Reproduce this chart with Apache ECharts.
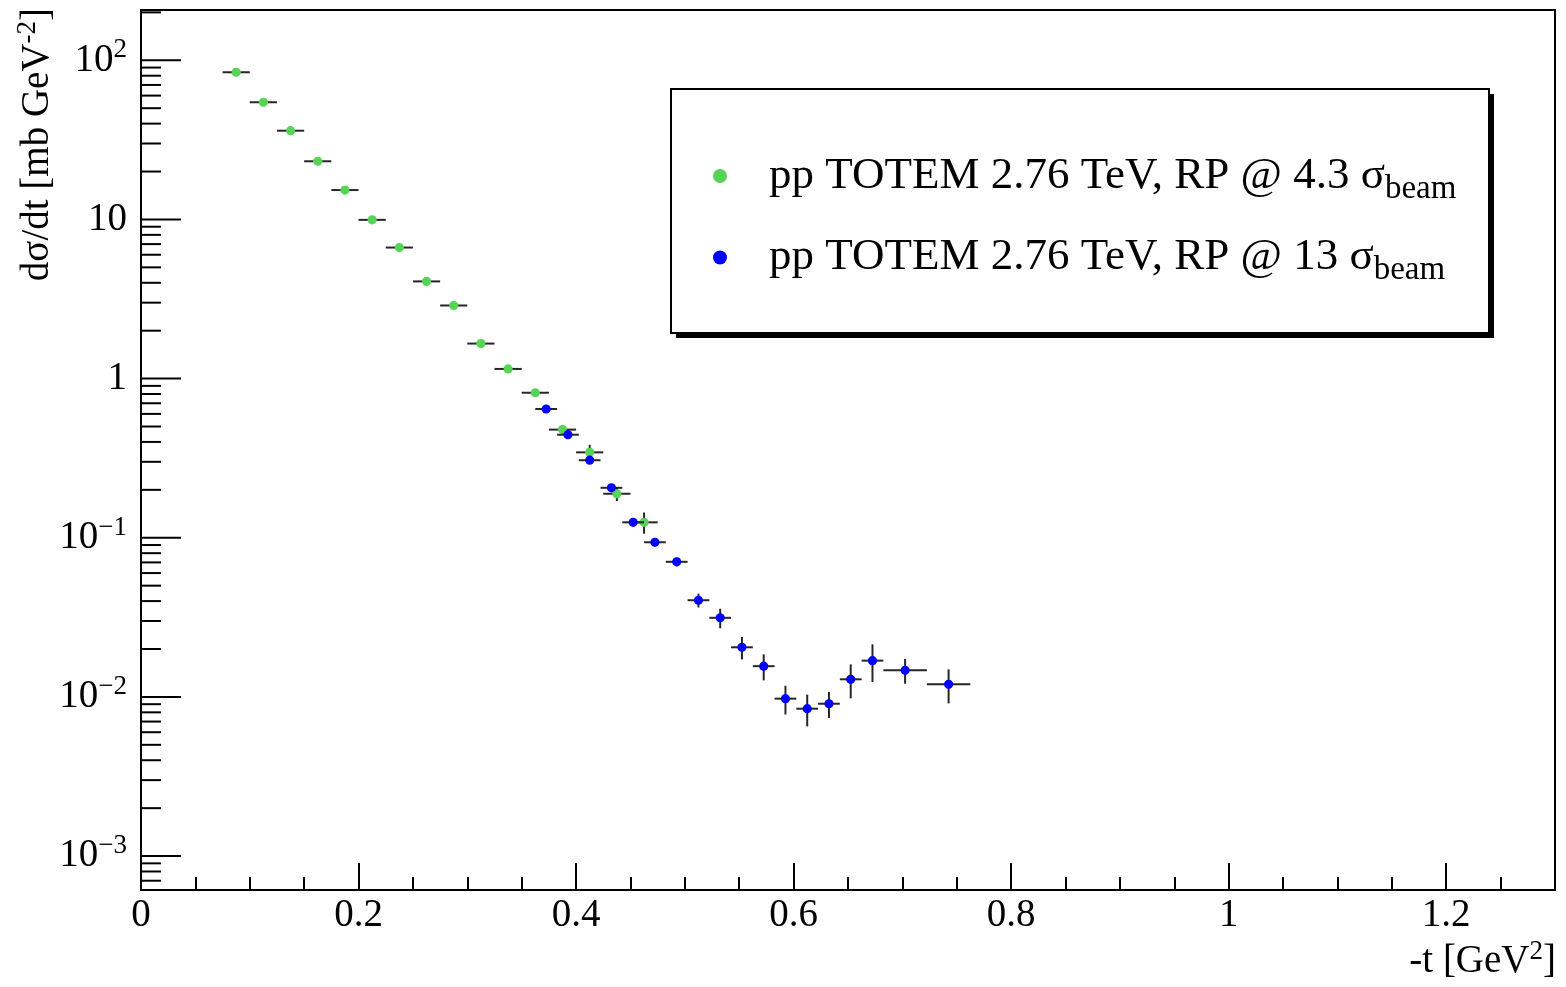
<!DOCTYPE html>
<html>
<head>
<meta charset="utf-8">
<script src="https://cdn.jsdelivr.net/npm/echarts@6/dist/echarts.min.js"></script>
<style>
  html, body { margin: 0; padding: 0; background: #fff; }
  #chart { width: 1566px; height: 987px; }
</style>
</head>
<body>
<div id="chart"></div>
<script>
// TOTEM elastic pp at 2.76 TeV: dσ/dt versus -t, two Roman Pot configurations

// RP @ 4.3 σ_beam
const tGreen     = [0.0875, 0.1125, 0.1375, 0.1625, 0.1875, 0.2125, 0.2375, 0.2625, 0.2875, 0.3125, 0.3375, 0.3625, 0.3875, 0.4125, 0.4375, 0.4625];
const tHalfGreen = [0.0125, 0.0125, 0.0125, 0.0125, 0.0125, 0.0125, 0.0125, 0.0125, 0.0125, 0.0125, 0.0125, 0.0125, 0.0125, 0.0125, 0.0125, 0.0125];
const dsGreen    = [84.1, 54.5, 36.1, 23.2, 15.3, 9.94, 6.66, 4.08, 2.88, 1.66, 1.15, 0.815, 0.478, 0.344, 0.189, 0.125];
const dsErrGreen = [0.8, 0.5, 0.35, 0.25, 0.17, 0.11, 0.08, 0.05, 0.035, 0.025, 0.02, 0.018, 0.03, 0.04, 0.019, 0.019];

// RP @ 13 σ_beam
const tBlue     = [0.3725, 0.3925, 0.4125, 0.4325, 0.4525, 0.4725, 0.4925, 0.5125, 0.5325, 0.5525, 0.5725, 0.5925, 0.6125, 0.6325, 0.6525, 0.6725, 0.7025, 0.7425];
const tHalfBlue = [0.01, 0.01, 0.01, 0.01, 0.01, 0.01, 0.01, 0.01, 0.01, 0.01, 0.01, 0.01, 0.01, 0.01, 0.01, 0.01, 0.02, 0.02];
const dsBlue    = [0.644, 0.444, 0.307, 0.206, 0.125, 0.0937, 0.0706, 0.0405, 0.0314, 0.0205, 0.0156, 0.00975, 0.00843, 0.00906, 0.0129, 0.0169, 0.0147, 0.0120];
const dsErrBlue = [0.02, 0.015, 0.012, 0.01, 0.007, 0.0055, 0.0045, 0.004, 0.0044, 0.0033, 0.0029, 0.002, 0.0019, 0.0017, 0.0031, 0.0045, 0.0026, 0.0029];

const nameGreen = 'pp TOTEM 2.76 TeV, RP @ 4.3 σbeam';
const nameBlue  = 'pp TOTEM 2.76 TeV, RP @ 13 σbeam';

// axis ranges and tick values
const tMin = 0, tMax = 1.3, tStep = 0.2;
const xMinorTicks = [0.05, 0.1, 0.15, 0.25, 0.3, 0.35, 0.45, 0.5, 0.55, 0.65, 0.7, 0.75, 0.85, 0.9, 0.95, 1.05, 1.1, 1.15, 1.25];
const yMin = 6.12e-4, yMax = 207;
const yMajorTicks = [1e-3, 1e-2, 1e-1, 1, 10, 100];
const yMinorTicks = [];
for (let e = -4; e <= 2; e++) {
  for (let m = 2; m <= 9; m++) {
    const v = m * Math.pow(10, e);
    if (v > yMin && v < yMax) yMinorTicks.push(v);
  }
}

const FONT = "'Liberation Serif', 'DejaVu Serif', serif";
const GREEN = '#57d457';
const BLUE = '#0000ff';
const BAR = '#262626';

function rows(t, th, v, ve) {
  return t.map((x, i) => [x, v[i], th[i], ve[i]]);
}

function errorPoint(color) {
  return function (params, api) {
    const x = api.value(0), y = api.value(1), ex = api.value(2), ey = api.value(3);
    const c = api.coord([x, y]);
    const l = api.coord([x - ex, y]);
    const r = api.coord([x + ex, y]);
    const up = api.coord([x, y + ey]);
    const dn = api.coord([x, Math.max(y - ey, yMin)]);
    const ls = { stroke: BAR, lineWidth: 2 };
    return {
      type: 'group',
      children: [
        { type: 'line', shape: { x1: l[0], y1: c[1], x2: r[0], y2: c[1] }, style: ls },
        { type: 'line', shape: { x1: c[0], y1: up[1], x2: c[0], y2: dn[1] }, style: ls },
        { type: 'circle', shape: { cx: c[0], cy: c[1], r: 4.6 }, style: { fill: color } }
      ]
    };
  };
}

function yTicks(len) {
  return function (params, api) {
    const p = api.coord([tMin, api.value(1)]);
    return {
      type: 'line',
      shape: { x1: p[0], y1: p[1], x2: p[0] + len, y2: p[1] },
      style: { stroke: '#000', lineWidth: 2 }
    };
  };
}

const supStyle = { fontSize: 27, fontFamily: FONT, color: '#000', padding: [0, 0, 20, 0] };

// legend frame with a solid drop shadow
const box = { x: 671, y: 89, w: 818, h: 244, shadow: 5 };

const chart = echarts.init(document.getElementById('chart'), null, { renderer: 'canvas' });

chart.setOption({
  backgroundColor: '#fff',
  animation: false,
  grid: {
    left: 141, right: 11, top: 10, bottom: 97,
    show: true, borderColor: '#000', borderWidth: 2, backgroundColor: 'transparent'
  },
  xAxis: [
    {
      type: 'value', min: tMin, max: tMax, interval: tStep,
      position: 'bottom',
      axisLine: { show: false },
      splitLine: { show: false },
      axisTick: { show: true, inside: true, length: 27, lineStyle: { color: '#000', width: 2 } },
      axisLabel: {
        show: true, margin: 6, showMaxLabel: false,
        fontFamily: FONT, fontSize: 39, color: '#000'
      }
    },
    {
      type: 'value', min: tMin, max: tMax,
      position: 'bottom',
      axisLine: { show: false },
      splitLine: { show: false },
      axisLabel: { show: false },
      axisTick: {
        show: true, inside: true, length: 13, customValues: xMinorTicks,
        lineStyle: { color: '#000', width: 2 }
      }
    }
  ],
  yAxis: {
    type: 'log', logBase: 10, min: yMin, max: yMax,
    axisLine: { show: false },
    splitLine: { show: false },
    axisTick: { show: false },
    axisLabel: {
      show: true, margin: 14, showMinLabel: false, showMaxLabel: false,
      fontFamily: FONT, fontSize: 39, color: '#000',
      formatter: function (v) {
        const e = Math.round(Math.log10(v));
        if (e === 0) return '1';
        if (e === 1) return '10';
        return '10{sup|' + (e < 0 ? '\u2212' + (-e) : e) + '}';
      },
      rich: { sup: supStyle }
    }
  },
  legend: {
    orient: 'vertical',
    left: 671, top: 89, z: 10,
    padding: [62, 34, 55, 42],
    itemGap: 27, itemWidth: 14, itemHeight: 14,
    selectedMode: false,
    data: [
      { name: nameGreen, icon: 'circle', itemStyle: { color: GREEN } },
      { name: nameBlue, icon: 'circle', itemStyle: { color: BLUE } }
    ],
    formatter: function (name) {
      return '{gap|}' + name.replace('σbeam', 'σ{sub|beam}');
    },
    textStyle: {
      fontFamily: FONT, fontSize: 45, color: '#000', lineHeight: 50,
      rich: {
        gap: { width: 37 },
        sub: { fontFamily: FONT, fontSize: 33, color: '#000', padding: [26, 0, 0, 0] }
      }
    }
  },
  graphic: [
    {
      type: 'rect', z: 1, silent: true,
      shape: { x: box.x + box.shadow, y: box.y + box.shadow, width: box.w, height: box.h },
      style: { fill: '#000' }
    },
    {
      type: 'rect', z: 2, silent: true,
      shape: { x: box.x, y: box.y, width: box.w, height: box.h },
      style: { fill: '#fff', stroke: '#000', lineWidth: 2 }
    },
    {
      type: 'text',
      x: 38, y: 8, rotation: Math.PI / 2,
      style: {
        text: 'dσ/dt [mb GeV{sup|-2}]',
        font: '39px ' + FONT, fill: '#000',
        align: 'right', verticalAlign: 'middle',
        rich: { sup: supStyle }
      }
    },
    {
      type: 'text',
      x: 1556, y: 962,
      style: {
        text: '-t [GeV{sup|2}]',
        font: '39px ' + FONT, fill: '#000',
        align: 'right', verticalAlign: 'middle',
        rich: { sup: supStyle }
      }
    }
  ],
  series: [
    {
      type: 'custom', name: 'y-major', silent: true, z: 3,
      renderItem: yTicks(40),
      encode: { x: 0, y: 1 },
      data: yMajorTicks.map(v => [tMin, v])
    },
    {
      type: 'custom', name: 'y-minor', silent: true, z: 3,
      renderItem: yTicks(20),
      encode: { x: 0, y: 1 },
      data: yMinorTicks.map(v => [tMin, v])
    },
    {
      type: 'custom', name: nameGreen, z: 4,
      itemStyle: { color: GREEN },
      renderItem: errorPoint(GREEN),
      encode: { x: 0, y: 1 },
      data: rows(tGreen, tHalfGreen, dsGreen, dsErrGreen)
    },
    {
      type: 'custom', name: nameBlue, z: 5,
      itemStyle: { color: BLUE },
      renderItem: errorPoint(BLUE),
      encode: { x: 0, y: 1 },
      data: rows(tBlue, tHalfBlue, dsBlue, dsErrBlue)
    }
  ]
});
</script>
</body>
</html>
